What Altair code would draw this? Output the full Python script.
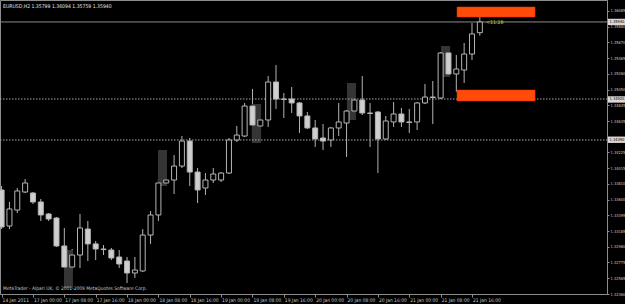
import altair as alt
import pandas as pd

# ---- candle data (EURUSD H2, bar index 0 = 14 Jan 16:00) ----
opens = [1.33729, 1.33255, 1.33465, 1.33702, 1.33689, 1.33571, 1.33413, 1.33360, 1.32992, 1.32715,
         1.32873, 1.33215, 1.33019, 1.32952, 1.32939, 1.32847, 1.32794, 1.32636, 1.32663, 1.33136,
         1.33400, 1.33821, 1.33860, 1.34044, 1.34373, 1.33965, 1.33755, 1.33860, 1.33860, 1.33952,
         1.34387, 1.34439, 1.34834, 1.34571, 1.34650, 1.35150, 1.34926, 1.34926, 1.34874, 1.34703,
         1.34545, 1.34413, 1.34387, 1.34545, 1.34610, 1.34768, 1.34913, 1.34742, 1.34755, 1.34400,
         1.34624, 1.34729, 1.34624, 1.34624, 1.34874, 1.34952, 1.34939, 1.35532, 1.35255, 1.35308,
         1.35518, 1.35799]
highs = [1.33781, 1.33571, 1.33755, 1.33873, 1.33702, 1.33610, 1.33426, 1.33373, 1.33229, 1.32952,
         1.33413, 1.33321, 1.33057, 1.33005, 1.32966, 1.32939, 1.32847, 1.32847, 1.33215, 1.33452,
         1.33873, 1.33913, 1.34189, 1.34439, 1.34413, 1.34018, 1.33952, 1.34018, 1.33965, 1.34413,
         1.34571, 1.34874, 1.35058, 1.34742, 1.35229, 1.35374, 1.35005, 1.35084, 1.34887, 1.34755,
         1.34650, 1.34597, 1.34558, 1.34874, 1.34781, 1.34926, 1.35229, 1.34874, 1.34768, 1.34703,
         1.34887, 1.34808, 1.34795, 1.34887, 1.35124, 1.35163, 1.35545, 1.35545, 1.35505, 1.35663,
         1.35926, 1.36094]
lows = [1.33215, 1.33215, 1.33426, 1.33689, 1.33544, 1.33321, 1.33321, 1.32979, 1.32702, 1.32676,
        1.32702, 1.32794, 1.32807, 1.32873, 1.32807, 1.32702, 1.32505, 1.32571, 1.32649, 1.33019,
        1.33321, 1.33781, 1.33676, 1.34018, 1.33781, 1.33557, 1.33663, 1.33821, 1.33834, 1.33939,
        1.34360, 1.34426, 1.34571, 1.34545, 1.34558, 1.34795, 1.34676, 1.34742, 1.34479, 1.34532,
        1.34295, 1.34255, 1.34295, 1.34439, 1.34163, 1.34755, 1.34716, 1.34295, 1.33952, 1.34387,
        1.34558, 1.34558, 1.34479, 1.34518, 1.34860, 1.34597, 1.34926, 1.35242, 1.35018, 1.35137,
        1.35439, 1.35759]
closes = [1.33242, 1.33479, 1.33716, 1.33821, 1.33571, 1.33400, 1.33347, 1.32992, 1.32715, 1.32873,
          1.33229, 1.33019, 1.32952, 1.32945, 1.32834, 1.32755, 1.32636, 1.32676, 1.33136, 1.33400,
          1.33821, 1.33860, 1.34044, 1.34373, 1.33965, 1.33729, 1.33860, 1.33939, 1.33952, 1.34387,
          1.34452, 1.34834, 1.34584, 1.34650, 1.35150, 1.34926, 1.34920, 1.34874, 1.34703, 1.34545,
          1.34400, 1.34373, 1.34545, 1.34624, 1.34768, 1.34913, 1.34742, 1.34736, 1.34400, 1.34637,
          1.34729, 1.34624, 1.34618, 1.34874, 1.34952, 1.34946, 1.35532, 1.35255, 1.35321, 1.35518,
          1.35782, 1.35940]

# daily session boxes (dark grey)
box_x0 = [7.96, 19.95, 31.9, 44.05, 56.05]
box_x1 = [9.1, 21.1, 33.1, 45.2, 57.2]
box_top = [1.32939, 1.34255, 1.34860, 1.35137, 1.35624]
box_bot = [1.32439, 1.33781, 1.34347, 1.34650, 1.35216]

# orange zones
zone_x0 = [58.09, 58.09]
zone_x1 = [68.04, 68.04]
zone_top = [1.36137, 1.35045]
zone_bot = [1.36005, 1.34900]

# horizontal lines
dotted_levels = [1.34926, 1.34387]
bid_level = [1.35940]
marked_levels = [1.35940, 1.34920, 1.34390]

# axis labels
x_label_bars = [0, 4, 8, 12, 16, 20, 24, 28, 32, 36, 40, 44, 48, 52, 56, 60]
x_labels = ["14 Jan 2011", "17 Jan 00:00", "17 Jan 08:00", "17 Jan 16:00", "18 Jan 00:00",
            "18 Jan 08:00", "18 Jan 16:00", "19 Jan 00:00", "19 Jan 08:00", "19 Jan 16:00",
            "20 Jan 00:00", "20 Jan 08:00", "20 Jan 16:00", "21 Jan 00:00", "21 Jan 08:00",
            "21 Jan 16:00"]
y_ticks = [1.32360, 1.32565, 1.32775, 1.32980, 1.33185, 1.33395, 1.33600, 1.33810, 1.34015,
           1.34225, 1.34430, 1.34635, 1.34845, 1.35050, 1.35260, 1.35465, 1.35670, 1.35880, 1.36085]

symbol = "EURUSD,H2"
timer_text = "<11:28"
footer_text = "MetaTrader - Alpari UK, \u00a9 2001-2009 MetaQuotes Software Corp."

FONT = "'Liberation Sans Narrow', 'DejaVu Sans Condensed', 'Liberation Sans', sans-serif"
GREY = "#b4b4b4"
AX = "#8c8c8c"

n = len(opens)
candles = pd.DataFrame({
    "i": list(range(n)), "open": opens, "high": highs, "low": lows, "close": closes,
})
candles["dir"] = ["bull" if c >= o else "bear" for o, c in zip(opens, closes)]

xs = alt.Scale(domain=[-0.204, 77.22], nice=False, zero=False, padding=0)
ys = alt.Scale(domain=[1.32360, 1.36229], nice=False, zero=False, padding=0)

label_expr = "[" + ",".join("'" + s + "'" for s in x_labels) + "][round(datum.value/4)]"
# price-axis labels hidden underneath a marked-level box
hidden = [v for v in y_ticks if any(abs(v - m) < 0.0005 for m in marked_levels)]
y_label_expr = "(" + " || ".join(f"abs(datum.value - {v}) < 1e-7" for v in hidden) + ") ? '' : format(datum.value, '.5f')" if hidden else "format(datum.value, '.5f')"

base = alt.Chart(candles)

wicks = base.mark_rule(color=GREY, strokeWidth=1, clip=True).encode(
    x=alt.X("i:Q", scale=xs, title=None, axis=alt.Axis(
        values=x_label_bars, tickCount=40, labelExpr=label_expr, title=None, orient="bottom",
        tickSize=3, tickColor=AX, domainColor=AX, labelColor="#c8c8c8",
        labelFont=FONT, labelFontSize=4.9, labelAlign="left", labelBaseline="top",
        labelPadding=0.5, labelOffset=0.5, grid=False, labelOverlap=False, labelFlush=False,
        labelBound=False)),
    y=alt.Y("high:Q", scale=ys, title=None, axis=alt.Axis(
        values=y_ticks, tickCount=40, labelExpr=y_label_expr, title=None, orient="right",
        tickSize=2, tickColor=AX, domainColor=AX, labelColor="#c8c8c8", labelFont=FONT,
        labelFontSize=4.0, labelPadding=1, grid=False, labelOverlap=False, labelFlush=False,
        labelBound=False)),
    y2="low:Q",
)

bodies = base.transform_calculate(
    top="max(datum.open, datum.close)", bot="min(datum.open, datum.close)"
).mark_bar(size=5, stroke=GREY, strokeWidth=1, clip=True).encode(
    x=alt.X("i:Q", scale=xs, title=None),
    y=alt.Y("top:Q", scale=ys, title=None),
    y2="bot:Q",
    color=alt.Color("dir:N", scale=alt.Scale(domain=["bull", "bear"], range=["#000000", "#cfcfcf"]),
                    legend=None),
)

boxes = alt.Chart(pd.DataFrame({"x0": box_x0, "x1": box_x1, "t": box_top, "b": box_bot})).mark_rect(
    color="#353535", clip=True).encode(
    x=alt.X("x0:Q", scale=xs, title=None), x2="x1:Q",
    y=alt.Y("t:Q", scale=ys, title=None), y2="b:Q")

zones = alt.Chart(pd.DataFrame({"x0": zone_x0, "x1": zone_x1, "t": zone_top, "b": zone_bot})).mark_rect(
    color="#ff4a0a", stroke="#e03800", strokeWidth=0.5, clip=True).encode(
    x=alt.X("x0:Q", scale=xs, title=None), x2="x1:Q",
    y=alt.Y("t:Q", scale=ys, title=None), y2="b:Q")

dotted = alt.Chart(pd.DataFrame({"p": dotted_levels})).mark_rule(
    color="#a8a8a8", strokeDash=[1.5, 1.5], strokeWidth=1).encode(
    y=alt.Y("p:Q", scale=ys, title=None), x=alt.value(0), x2=alt.value(607))

bid = alt.Chart(pd.DataFrame({"p": bid_level})).mark_rule(color="#8c8c8c", strokeWidth=1).encode(
    y=alt.Y("p:Q", scale=ys, title=None), x=alt.value(0), x2=alt.value(607))

marks_df = pd.DataFrame({"p": marked_levels})
marks_df["lab"] = [f"{v:.5f}" for v in marked_levels]
mark_bg = alt.Chart(marks_df).transform_calculate(
    t="datum.p + 0.00042", b="datum.p - 0.00042").mark_rect(color="#d8d8d8").encode(
    y=alt.Y("t:Q", scale=ys, title=None), y2="b:Q", x=alt.value(608), x2=alt.value(625))
mark_txt = alt.Chart(marks_df).mark_text(
    font=FONT, fontSize=4.0, color="#000000", align="left", baseline="middle").encode(
    y=alt.Y("p:Q", scale=ys, title=None), x=alt.value(609.5), text="lab:N")

header_df = pd.DataFrame({"t": [f"{symbol}  {opens[-1]:.5f} {highs[-1]:.5f} {lows[-1]:.5f} {closes[-1]:.5f}"]})
header = alt.Chart(header_df).mark_text(
    font=FONT, fontSize=5.1, color="#e0e0e0", align="left", baseline="middle").encode(
    x=alt.value(3), y=alt.value(5.5), text="t:N")

footer = alt.Chart(pd.DataFrame({"t": [footer_text]})).mark_text(
    font=FONT, fontSize=4.9, color="#c8c8c8", align="left", baseline="middle").encode(
    x=alt.value(3), y=alt.value(288.5), text="t:N")

timer = alt.Chart(pd.DataFrame({"t": [timer_text], "i": [61.8], "p": [closes[-1]]})).mark_text(
    font=FONT, fontSize=5.2, color="#c8c814", align="left", baseline="middle").encode(
    x=alt.X("i:Q", scale=xs, title=None), y=alt.Y("p:Q", scale=ys, title=None), text="t:N")

chart = alt.layer(
    wicks, boxes, dotted, bid, bodies, zones, mark_bg, mark_txt, header, footer, timer
).properties(
    width=607, height=294,
    autosize=alt.AutoSizeParams(type="none"),
    padding={"left": 0, "top": 0, "right": 18, "bottom": 10},
    background="#000000",
).configure_view(stroke=AX, strokeWidth=1).configure_axis(labelOverlap=False)

chart.save("out.html", embed_options={"renderer": "svg", "actions": False})
